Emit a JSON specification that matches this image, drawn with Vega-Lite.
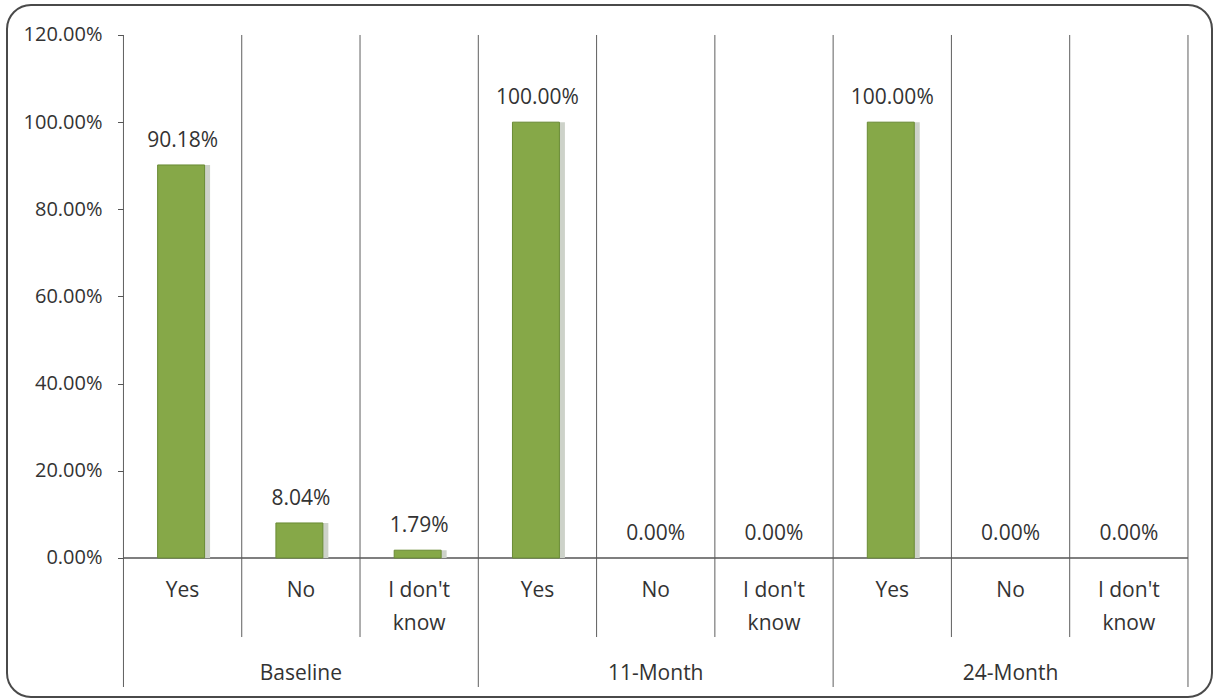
{
  "$schema": "https://vega.github.io/schema/vega-lite/v6.json",
  "width": 1205,
  "height": 692,
  "autosize": {"type": "none"},
  "padding": {"left": 7, "top": 5, "right": 3, "bottom": 3},
  "background": "white",
  "config": {
    "view": {"stroke": "#4a4a4a", "strokeWidth": 2, "cornerRadius": 24},
    "font": "Open Sans",
    "text": {"color": "#333333", "font": "Open Sans"}
  },
  "data": {
    "values": [
      {"key": "Baseline|Yes", "period": "Baseline", "answer": "Yes", "pct": 0.9018},
      {"key": "Baseline|No", "period": "Baseline", "answer": "No", "pct": 0.0804},
      {"key": "Baseline|I don't know", "period": "Baseline", "answer": "I don't know", "pct": 0.0179},
      {"key": "11-Month|Yes", "period": "11-Month", "answer": "Yes", "pct": 1.0},
      {"key": "11-Month|No", "period": "11-Month", "answer": "No", "pct": 0.0},
      {"key": "11-Month|I don't know", "period": "11-Month", "answer": "I don't know", "pct": 0.0},
      {"key": "24-Month|Yes", "period": "24-Month", "answer": "Yes", "pct": 1.0},
      {"key": "24-Month|No", "period": "24-Month", "answer": "No", "pct": 0.0},
      {"key": "24-Month|I don't know", "period": "24-Month", "answer": "I don't know", "pct": 0.0}
    ]
  },
  "layer": [
    {
      "description": "inner category separators (between answers)",
      "transform": [{"filter": "datum.answer != 'Yes'"}],
      "mark": {"type": "rule", "color": "#5f5f5f", "strokeWidth": 1},
      "encoding": {
        "x": {"field": "key", "type": "nominal", "sort": null, "bandPosition": 0,
              "scale": {"domain": ["Baseline|Yes", "Baseline|No", "Baseline|I don't know",
                                   "11-Month|Yes", "11-Month|No", "11-Month|I don't know",
                                   "24-Month|Yes", "24-Month|No", "24-Month|I don't know"],
                        "paddingInner": 0, "paddingOuter": 0.5939, "align": 0.829}, "axis": null},
        "y": {"datum": 1.2, "type": "quantitative",
              "scale": {"domain": [-0.31893, 1.26883], "nice": false, "zero": false}},
        "y2": {"datum": -0.1813}
      }
    },
    {
      "description": "outer separators (between periods), including the left axis line",
      "transform": [{"filter": "datum.answer == 'Yes'"}],
      "mark": {"type": "rule", "color": "#5f5f5f", "strokeWidth": 1},
      "encoding": {
        "x": {"field": "key", "type": "nominal", "sort": null, "bandPosition": 0},
        "y": {"datum": 1.2, "type": "quantitative"},
        "y2": {"datum": -0.296}
      }
    },
    {
      "description": "closing separator on the right",
      "transform": [{"filter": "datum.key == '24-Month|I don\\'t know'"}],
      "mark": {"type": "rule", "color": "#5f5f5f", "strokeWidth": 1},
      "encoding": {
        "x": {"field": "key", "type": "nominal", "sort": null, "bandPosition": 1},
        "y": {"datum": 1.2, "type": "quantitative"},
        "y2": {"datum": -0.296}
      }
    },
    {
      "description": "category axis baseline",
      "mark": {"type": "rect", "color": "#555555"},
      "encoding": {
        "x": {"field": "key", "type": "nominal", "sort": null},
        "y": {"datum": 0.0018, "type": "quantitative"},
        "y2": {"datum": -0.0018}
      }
    },
    {
      "description": "bar shadow",
      "transform": [{"filter": "datum.pct > 0"}],
      "mark": {"type": "bar", "width": {"band": 0.397}, "xOffset": 4, "color": "#cdd2c9"},
      "encoding": {
        "x": {"field": "key", "type": "nominal", "sort": null},
        "y": {"field": "pct", "type": "quantitative"}
      }
    },
    {
      "description": "bars",
      "transform": [{"filter": "datum.pct > 0"}],
      "mark": {"type": "bar", "width": {"band": 0.397}, "xOffset": -1.5,
               "fill": "#86a848", "stroke": "#6a8b35", "strokeWidth": 1},
      "encoding": {
        "x": {"field": "key", "type": "nominal", "sort": null},
        "y": {"field": "pct", "type": "quantitative",
              "axis": {"orient": "left", "offset": -116.5, "title": null, "domain": false, "grid": false,
                       "values": [0, 0.2, 0.4, 0.6, 0.8, 1.0, 1.2], "format": ".2%",
                       "ticks": true, "tickSize": 6, "tickColor": "#555555", "tickWidth": 1,
                       "labelFont": "Open Sans", "labelFontSize": 20, "labelColor": "#333333",
                       "labelPadding": 15.5, "labelBaseline": "middle"}}
      }
    },
    {
      "description": "value labels",
      "mark": {"type": "text", "fontSize": 21, "baseline": "alphabetic", "align": "center", "dy": -18},
      "encoding": {
        "x": {"field": "key", "type": "nominal", "sort": null},
        "y": {"field": "pct", "type": "quantitative"},
        "text": {"field": "pct", "type": "quantitative", "format": ".2%"}
      }
    },
    {
      "description": "answer labels under the axis",
      "transform": [{"calculate": "replace(datum.answer, \"don't \", \"don't\\n\")", "as": "label"}],
      "mark": {"type": "text", "fontSize": 21, "baseline": "alphabetic", "align": "center",
               "lineBreak": "\n", "lineHeight": 33},
      "encoding": {
        "x": {"field": "key", "type": "nominal", "sort": null},
        "y": {"datum": -0.0895, "type": "quantitative"},
        "text": {"field": "label", "type": "nominal"}
      }
    },
    {
      "description": "period labels",
      "transform": [{"filter": "datum.answer == 'No'"}],
      "mark": {"type": "text", "fontSize": 21, "baseline": "alphabetic", "align": "center"},
      "encoding": {
        "x": {"field": "key", "type": "nominal", "sort": null},
        "y": {"datum": -0.2799, "type": "quantitative"},
        "text": {"field": "period", "type": "nominal"}
      }
    }
  ]
}
